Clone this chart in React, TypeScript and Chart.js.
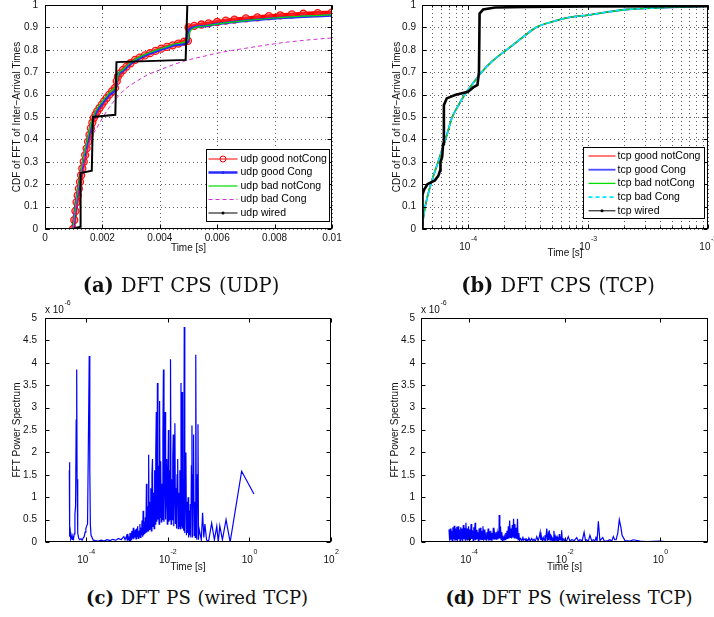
import React, { useEffect, useRef } from "react";
import { Chart, registerables } from "chart.js";

Chart.register(...registerables);

// ---------------- (a) UDP: CDF of FFT of inter-arrival times [time s, cdf] ----------------
const udpGoodNotCong: [number, number][] = [
  [0.00098, 0.0], [0.00102, 0.04], [0.00106, 0.08], [0.0011, 0.12], [0.00114, 0.15], [0.00118, 0.18],
  [0.00122, 0.21], [0.00126, 0.24], [0.0013, 0.27], [0.00135, 0.3], [0.0014, 0.33], [0.00145, 0.36],
  [0.0015, 0.39], [0.00155, 0.42], [0.0016, 0.45], [0.00165, 0.475], [0.0017, 0.495], [0.00176, 0.51],
  [0.00182, 0.525], [0.0019, 0.54], [0.00198, 0.555], [0.00206, 0.57], [0.00215, 0.585], [0.00224, 0.6],
  [0.00234, 0.615], [0.00244, 0.63], [0.0025, 0.66], [0.00254, 0.68], [0.00262, 0.695], [0.00272, 0.71],
  [0.00284, 0.725], [0.00298, 0.74], [0.00314, 0.755], [0.0033, 0.765], [0.00348, 0.775], [0.00366, 0.785],
  [0.00385, 0.795], [0.00405, 0.805], [0.00425, 0.813], [0.00445, 0.82], [0.00465, 0.828], [0.00485, 0.836],
  [0.00498, 0.84], [0.005, 0.9], [0.0052, 0.907], [0.00545, 0.913], [0.0057, 0.918], [0.006, 0.924],
  [0.0063, 0.93], [0.0066, 0.935], [0.007, 0.94], [0.0074, 0.945], [0.0078, 0.95], [0.0082, 0.954],
  [0.0086, 0.958], [0.009, 0.961], [0.0095, 0.964], [0.01, 0.967],
];
const udpGoodCong: [number, number][] = [
  [0.00098, 0.0], [0.0011, 0.13], [0.00122, 0.22], [0.00135, 0.31], [0.0015, 0.4], [0.00165, 0.48],
  [0.0018, 0.525], [0.002, 0.56], [0.00225, 0.6], [0.00248, 0.635], [0.00252, 0.68], [0.0027, 0.705],
  [0.003, 0.74], [0.0034, 0.77], [0.0038, 0.79], [0.0042, 0.808], [0.0046, 0.822], [0.00498, 0.835],
  [0.00502, 0.89], [0.0055, 0.905], [0.006, 0.915], [0.007, 0.93], [0.008, 0.94], [0.009, 0.947], [0.01, 0.953],
];
const udpBadNotCong: [number, number][] = [
  [0.00097, 0.0], [0.0011, 0.14], [0.00122, 0.235], [0.00135, 0.325], [0.0015, 0.415], [0.00165, 0.49],
  [0.0018, 0.535], [0.002, 0.57], [0.00225, 0.61], [0.00248, 0.645], [0.00255, 0.69], [0.0027, 0.71],
  [0.003, 0.745], [0.0034, 0.775], [0.0038, 0.795], [0.0042, 0.812], [0.0046, 0.828], [0.00498, 0.845],
  [0.00502, 0.87], [0.0051, 0.89], [0.0055, 0.905], [0.006, 0.915], [0.007, 0.93], [0.008, 0.942],
  [0.009, 0.95], [0.01, 0.956],
];
const udpBadCong: [number, number][] = [
  [0.00097, 0.0], [0.0011, 0.12], [0.00125, 0.24], [0.0014, 0.33], [0.0016, 0.405], [0.0018, 0.45],
  [0.002, 0.495], [0.00225, 0.545], [0.0025, 0.585], [0.0028, 0.625], [0.0032, 0.66], [0.0036, 0.69],
  [0.004, 0.71], [0.0045, 0.735], [0.005, 0.755], [0.0055, 0.77], [0.006, 0.785], [0.0065, 0.797],
  [0.007, 0.807], [0.008, 0.827], [0.009, 0.842], [0.01, 0.853],
];
const udpWired: [number, number][] = [
  [0.00099, 0.0], [0.00122, 0.01], [0.00124, 0.25], [0.00163, 0.26], [0.00167, 0.5], [0.00245, 0.51],
  [0.00249, 0.745], [0.0049, 0.755], [0.00496, 1.0], [0.01, 1.0],
];

// ---------------- (b) TCP: CDF [time s, cdf] ----------------
const tcpGoodNotCong: [number, number][] = [
  [4.14e-5, 0], [4.25e-5, 0.05], [4.4e-5, 0.1], [4.6e-5, 0.145], [4.9e-5, 0.2], [5.25e-5, 0.25],
  [5.65e-5, 0.3], [6.05e-5, 0.35], [6.5e-5, 0.4], [7.4e-5, 0.5], [8.3e-5, 0.55], [9.4e-5, 0.6],
  [1.1e-4, 0.65], [1.3e-4, 0.7], [1.6e-4, 0.75], [2.1e-4, 0.8], [2.55e-4, 0.835], [3.0e-4, 0.865],
  [3.7e-4, 0.9], [5e-4, 0.925], [7e-4, 0.945], [1e-3, 0.955], [1.5e-3, 0.97], [2.1e-3, 0.98],
  [3e-3, 0.985], [5e-3, 0.99], [1e-2, 0.995],
];
const tcpGoodCong: [number, number][] = [
  [4.14e-5, 0], [4.25e-5, 0.05], [4.4e-5, 0.1], [4.6e-5, 0.145], [4.9e-5, 0.2], [5.25e-5, 0.25],
  [5.65e-5, 0.3], [6.05e-5, 0.35], [6.5e-5, 0.4], [7.4e-5, 0.5], [8.3e-5, 0.55], [9.4e-5, 0.6],
  [1.1e-4, 0.65], [1.3e-4, 0.7], [1.6e-4, 0.75], [2.1e-4, 0.8], [2.55e-4, 0.835], [3.0e-4, 0.865],
  [3.7e-4, 0.9], [5e-4, 0.925], [7e-4, 0.945], [1e-3, 0.955], [1.5e-3, 0.97], [2.1e-3, 0.98],
  [3e-3, 0.985], [5e-3, 0.99], [1e-2, 0.995],
];
const tcpBadNotCong: [number, number][] = [
  [4.14e-5, 0], [4.25e-5, 0.05], [4.4e-5, 0.1], [4.6e-5, 0.145], [4.9e-5, 0.2], [5.25e-5, 0.25],
  [5.65e-5, 0.3], [6.05e-5, 0.35], [6.5e-5, 0.4], [7.4e-5, 0.5], [8.3e-5, 0.55], [9.4e-5, 0.6],
  [1.1e-4, 0.65], [1.3e-4, 0.7], [1.6e-4, 0.75], [2.1e-4, 0.8], [2.55e-4, 0.835], [3.0e-4, 0.865],
  [3.7e-4, 0.9], [5e-4, 0.925], [7e-4, 0.945], [1e-3, 0.955], [1.5e-3, 0.97], [2.1e-3, 0.98],
  [3e-3, 0.985], [5e-3, 0.99], [1e-2, 0.995],
];
const tcpBadCong: [number, number][] = [
  [4.14e-5, 0], [4.25e-5, 0.05], [4.4e-5, 0.1], [4.6e-5, 0.145], [4.9e-5, 0.2], [5.25e-5, 0.25],
  [5.65e-5, 0.3], [6.05e-5, 0.35], [6.5e-5, 0.4], [7.4e-5, 0.5], [8.3e-5, 0.55], [9.4e-5, 0.6],
  [1.1e-4, 0.65], [1.3e-4, 0.7], [1.6e-4, 0.75], [2.1e-4, 0.8], [2.55e-4, 0.835], [3.0e-4, 0.865],
  [3.7e-4, 0.9], [5e-4, 0.925], [7e-4, 0.945], [1e-3, 0.955], [1.5e-3, 0.97], [2.1e-3, 0.98],
  [3e-3, 0.985], [5e-3, 0.99], [1e-2, 0.995],
];
const tcpWired: [number, number][] = [
  [4.16e-5, 0], [4.18e-5, 0.152], [4.3e-5, 0.175], [4.6e-5, 0.2], [5.3e-5, 0.217], [5.66e-5, 0.237],
  [5.85e-5, 0.26], [5.9e-5, 0.298], [6.1e-5, 0.323], [6.2e-5, 0.38], [6.3e-5, 0.553], [6.65e-5, 0.583],
  [7.8e-5, 0.598], [1.0e-4, 0.613], [1.107e-4, 0.632], [1.2e-4, 0.643], [1.235e-4, 0.7], [1.25e-4, 0.962],
  [1.34e-4, 0.98], [1.68e-4, 0.989], [3e-4, 0.991], [1e-3, 0.993], [1e-2, 0.995],
];

// ---------------- (c) wired TCP power spectrum [time s, power x1e-6] ----------------
const wiredTcpSpectrum: [number, number][] = [
  [3.94e-5, 1.6], [3.96e-5, 1.78], [4.0e-5, 0.26], [4.08e-5, 0.12], [4.16e-5, 0.22], [4.25e-5, 0.08],
  [4.4e-5, 0.14], [4.6e-5, 0.06], [4.8e-5, 0.12], [5.0e-5, 0.07], [5.2e-5, 0.18], [5.4e-5, 0.62],
  [5.6e-5, 0.8], [5.8e-5, 2.72], [5.97e-5, 3.85], [6.1e-5, 1.4], [6.25e-5, 0.45], [6.4e-5, 0.2],
  [6.7e-5, 0.08], [7.1e-5, 0.05], [7.6e-5, 0.07], [8.1e-5, 0.04], [8.6e-5, 0.09], [9.1e-5, 0.12],
  [9.6e-5, 0.22], [1.0e-4, 0.3], [1.05e-4, 0.36], [1.1e-4, 0.4], [1.15e-4, 2.13], [1.21e-4, 4.15],
  [1.25e-4, 1.6], [1.29e-4, 0.38], [1.34e-4, 0.15], [1.42e-4, 0.1], [1.52e-4, 0.04], [1.7e-4, 0.03],
  [2.0e-4, 0.02], [2.4e-4, 0.04], [2.8e-4, 0.02], [3.3e-4, 0.05], [3.9e-4, 0.03], [4.6e-4, 0.06],
  [5.4e-4, 0.04], [6.3e-4, 0.08], [7.3e-4, 0.05], [8.5e-4, 0.12], [9.1e-4, 0.05],
  [1.0e-3, 0.14], [1.03e-3, 0.04], [1.06e-3, 0.18], [1.1e-3, 0.05], [1.13e-3, 0.12], [1.17e-3, 0.03],
  [1.2e-3, 0.2], [1.24e-3, 0.06], [1.28e-3, 0.15], [1.32e-3, 0.04], [1.36e-3, 0.25], [1.4e-3, 0.08],
  [1.45e-3, 0.32], [1.49e-3, 0.06], [1.54e-3, 0.2], [1.59e-3, 0.1], [1.64e-3, 0.28], [1.69e-3, 0.07],
  [1.74e-3, 0.3], [1.8e-3, 0.12], [1.85e-3, 0.35], [1.91e-3, 0.08], [1.97e-3, 0.25], [2.03e-3, 0.12],
  [2.1e-3, 0.4], [2.16e-3, 0.1], [2.23e-3, 0.32], [2.3e-3, 0.15], [2.37e-3, 0.48], [2.45e-3, 0.12],
  [2.52e-3, 0.7], [2.6e-3, 0.15], [2.68e-3, 0.45], [2.77e-3, 0.18], [2.85e-3, 0.55], [2.94e-3, 0.2],
  [3.04e-3, 1.3], [3.13e-3, 0.22], [3.23e-3, 0.8], [3.33e-3, 0.25], [3.44e-3, 1.95], [3.55e-3, 0.28],
  [3.66e-3, 0.9], [3.77e-3, 0.3], [3.89e-3, 1.2], [4.01e-3, 0.25], [4.14e-3, 1.5], [4.27e-3, 1.85],
  [4.4e-3, 0.35], [4.54e-3, 1.1], [4.68e-3, 0.3], [4.83e-3, 1.6], [4.98e-3, 0.4], [5.14e-3, 2.0],
  [5.3e-3, 2.9], [5.47e-3, 0.45], [5.64e-3, 3.55], [5.82e-3, 0.5], [6.0e-3, 1.7], [6.19e-3, 0.4],
  [6.38e-3, 3.15], [6.58e-3, 0.55], [6.79e-3, 1.8], [7.0e-3, 0.45], [7.22e-3, 1.3], [7.45e-3, 0.5],
  [7.68e-3, 2.4], [7.92e-3, 3.85], [8.17e-3, 0.45], [8.43e-3, 1.5], [8.69e-3, 2.9], [8.97e-3, 0.5],
  [9.25e-3, 1.2], [9.54e-3, 1.85], [9.84e-3, 0.4], [1.015e-2, 1.3], [1.05e-2, 2.5], [1.08e-2, 0.45],
  [1.11e-2, 1.6], [1.15e-2, 0.5], [1.18e-2, 4.08], [1.22e-2, 0.4], [1.26e-2, 1.4], [1.3e-2, 0.5],
  [1.34e-2, 1.9], [1.38e-2, 2.4], [1.42e-2, 0.35], [1.47e-2, 1.3], [1.51e-2, 2.65], [1.56e-2, 0.4],
  [1.61e-2, 1.2], [1.66e-2, 0.3], [1.71e-2, 1.5], [1.77e-2, 1.85], [1.82e-2, 0.3], [1.88e-2, 1.1],
  [1.94e-2, 0.35], [2.0e-2, 1.6], [2.06e-2, 0.3], [2.13e-2, 3.55], [2.19e-2, 0.35], [2.26e-2, 3.35],
  [2.33e-2, 0.3], [2.41e-2, 1.4], [2.48e-2, 0.25], [2.56e-2, 4.8], [2.64e-2, 0.2], [2.72e-2, 1.2],
  [2.81e-2, 2.0], [2.9e-2, 0.15], [2.99e-2, 0.9], [3.08e-2, 0.2], [3.18e-2, 1.0], [3.28e-2, 0.1],
  [3.38e-2, 0.7], [3.49e-2, 0.15], [3.6e-2, 0.85], [3.71e-2, 0.1], [3.83e-2, 1.7], [3.95e-2, 2.6],
  [4.07e-2, 0.1], [4.2e-2, 1.5], [4.33e-2, 2.4], [4.47e-2, 0.15], [4.61e-2, 0.9], [4.75e-2, 0.1],
  [4.9e-2, 4.18], [5.06e-2, 0.3], [5.22e-2, 0.05], [5.38e-2, 1.5], [5.55e-2, 2.63], [5.72e-2, 0.05],
  [5.9e-2, 0.3], [6.2e-2, 0.3], [6.7e-2, 0.05], [7.2e-2, 0.65], [7.7e-2, 0.1], [8.2e-2, 0.4], [9.0e-2, 0.05],
  [0.1, 0.0], [0.12, 0.42], [0.14, 0.05], [0.16, 0.35], [0.174, 0.0], [0.19, 0.36], [0.22, 0.05],
  [0.27, 0.5], [0.34, 0.0], [0.65, 1.58], [1.3, 1.07],
];

// ---------------- (d) wireless TCP power spectrum [time s, power x1e-6] ----------------
const wirelessTcpSpectrum: [number, number][] = [
  [3.85e-5, 0.28], [3.97e-5, 0.03], [4.1e-5, 0.3], [4.23e-5, 0.05], [4.36e-5, 0.25], [4.5e-5, 0.02],
  [4.64e-5, 0.33], [4.79e-5, 0.06], [4.94e-5, 0.36], [5.1e-5, 0.03], [5.26e-5, 0.3], [5.43e-5, 0.05],
  [5.6e-5, 0.34], [5.78e-5, 0.02], [5.96e-5, 0.35], [6.15e-5, 0.06], [6.35e-5, 0.28], [6.55e-5, 0.03],
  [6.76e-5, 0.33], [6.97e-5, 0.05], [7.2e-5, 0.3], [7.43e-5, 0.02], [7.66e-5, 0.38], [7.9e-5, 0.06],
  [8.15e-5, 0.32], [8.41e-5, 0.04], [8.68e-5, 0.43], [8.96e-5, 0.05], [9.25e-5, 0.3], [9.54e-5, 0.03],
  [9.85e-5, 0.35], [1.016e-4, 0.06], [1.05e-4, 0.28], [1.08e-4, 0.04], [1.115e-4, 0.4], [1.15e-4, 0.07],
  [1.19e-4, 0.26], [1.23e-4, 0.03], [1.27e-4, 0.33], [1.31e-4, 0.05], [1.35e-4, 0.43], [1.39e-4, 0.04],
  [1.44e-4, 0.27], [1.48e-4, 0.06], [1.53e-4, 0.22], [1.58e-4, 0.03], [1.63e-4, 0.3], [1.68e-4, 0.05],
  [1.73e-4, 0.32], [1.79e-4, 0.04], [1.85e-4, 0.25], [1.91e-4, 0.06], [1.97e-4, 0.35], [2.03e-4, 0.03],
  [2.09e-4, 0.28], [2.16e-4, 0.05], [2.23e-4, 0.15], [2.3e-4, 0.04], [2.37e-4, 0.22], [2.45e-4, 0.06],
  [2.53e-4, 0.3], [2.61e-4, 0.03], [2.69e-4, 0.24], [2.78e-4, 0.05], [2.87e-4, 0.25], [2.96e-4, 0.04],
  [3.05e-4, 0.2], [3.15e-4, 0.06], [3.25e-4, 0.32], [3.35e-4, 0.05], [3.46e-4, 0.18], [3.57e-4, 0.07],
  [3.68e-4, 0.22], [3.8e-4, 0.05], [3.92e-4, 0.2], [4.05e-4, 0.06], [4.18e-4, 0.25], [4.27e-4, 0.08],
  [4.31e-4, 0.6], [4.45e-4, 0.08], [4.59e-4, 0.35], [4.74e-4, 0.05], [4.89e-4, 0.22], [5.05e-4, 0.04],
  [5.21e-4, 0.1], [5.37e-4, 0.03], [5.54e-4, 0.12], [5.72e-4, 0.05], [5.9e-4, 0.2], [6.09e-4, 0.06],
  [6.29e-4, 0.25], [6.49e-4, 0.07], [6.7e-4, 0.35], [6.91e-4, 0.08], [7.13e-4, 0.48], [7.36e-4, 0.1],
  [7.6e-4, 0.3], [7.84e-4, 0.08], [8.09e-4, 0.38], [8.35e-4, 0.1], [8.62e-4, 0.52], [8.89e-4, 0.09],
  [9.18e-4, 0.4], [9.47e-4, 0.08], [9.77e-4, 0.32], [1.01e-3, 0.07], [1.04e-3, 0.52], [1.07e-3, 0.05],
  [1.11e-3, 0.2], [1.15e-3, 0.04], [1.2e-3, 0.08], [1.28e-3, 0.03], [1.35e-3, 0.1], [1.4e-3, 0.04],
  [1.5e-3, 0.07], [1.57e-3, 0.02], [1.63e-3, 0.06], [1.72e-3, 0.03], [1.8e-3, 0.09], [1.92e-3, 0.02],
  [2.06e-3, 0.08], [2.18e-3, 0.03], [2.3e-3, 0.06], [2.45e-3, 0.02], [2.63e-3, 0.12], [2.8e-3, 0.03],
  [2.95e-3, 0.1], [3.1e-3, 0.22], [3.2e-3, 0.04], [3.3e-3, 0.12], [3.45e-3, 0.03], [3.6e-3, 0.1],
  [3.75e-3, 0.04], [3.9e-3, 0.15], [4.05e-3, 0.05], [4.26e-3, 0.3], [4.4e-3, 0.06], [4.55e-3, 0.15],
  [4.65e-3, 0.04], [4.8e-3, 0.26], [5.0e-3, 0.04], [5.2e-3, 0.15], [5.4e-3, 0.12], [5.55e-3, 0.03],
  [5.7e-3, 0.1], [5.85e-3, 0.03], [6.0e-3, 0.25], [6.2e-3, 0.05], [6.4e-3, 0.12], [6.6e-3, 0.03],
  [6.9e-3, 0.1], [7.1e-3, 0.03], [7.3e-3, 0.08], [7.55e-3, 0.03], [7.8e-3, 0.18], [8.0e-3, 0.04],
  [8.2e-3, 0.1], [8.45e-3, 0.04], [8.7e-3, 0.26], [9.0e-3, 0.03], [9.4e-3, 0.07], [9.8e-3, 0.02],
  [1.02e-2, 0.06], [1.1e-2, 0.02], [1.2e-2, 0.12], [1.3e-2, 0.02], [1.41e-2, 0.05], [1.6e-2, 0.03],
  [1.8e-2, 0.1], [1.95e-2, 0.02], [2.1e-2, 0.05], [2.35e-2, 0.03], [2.57e-2, 0.22], [2.75e-2, 0.03],
  [2.9e-2, 0.05], [3.15e-2, 0.02], [3.4e-2, 0.15], [3.7e-2, 0.03], [4.0e-2, 0.05], [4.3e-2, 0.02],
  [4.55e-2, 0.1], [4.8e-2, 0.02], [5.1e-2, 0.46], [5.5e-2, 0.03], [6.3e-2, 0.1], [6.8e-2, 0.02],
  [7.4e-2, 0.02], [8.1e-2, 0.03], [8.9e-2, 0.05], [9.7e-2, 0.02], [0.105, 0.12], [0.112, 0.05],
  [0.12, 0.05], [0.13, 0.2], [0.14, 0.5], [0.15, 0.35], [0.16, 0.15], [0.184, 0.03], [0.234, 0.02],
  [0.275, 0.05], [0.38, 0.02], [0.525, 0.01], [1.0, 0.02], [1.6, 0.0],
];

// ---------------- ticks ----------------
const udpTimeTicks = [0, 0.002, 0.004, 0.006, 0.008, 0.01];
const udpTimeTickLabels = ["0", "0.002", "0.004", "0.006", "0.008", "0.01"];
const cdfTicks = [0, 0.1, 0.2, 0.3, 0.4, 0.5, 0.6, 0.7, 0.8, 0.9, 1];
const cdfTickLabels = ["0", "0.1", "0.2", "0.3", "0.4", "0.5", "0.6", "0.7", "0.8", "0.9", "1"];
const tcpTimeTicks = [1e-4, 1e-3, 1e-2];
const tcpTimeTickExps = ["-4", "-3", "-2"];
const powerTicks = [0, 0.5, 1, 1.5, 2, 2.5, 3, 3.5, 4, 4.5, 5];
const powerTickLabels = ["0", "0.5", "1", "1.5", "2", "2.5", "3", "3.5", "4", "4.5", "5"];
const wiredPsTimeTicks = [1e-4, 1e-2, 1, 100];
const wiredPsTimeTickExps = ["-4", "-2", "0", "2"];
const wirelessPsTimeTicks = [1e-4, 1e-2, 1];
const wirelessPsTimeTickExps = ["-4", "-2", "0"];
const powerExponent = "-6";

function logMinorTicks(minExp: number, maxExp: number, lo: number, hi: number): number[] {
  const out: number[] = [];
  for (let e = minExp; e <= maxExp; e++) {
    for (let m = 1; m <= 9; m++) {
      const v = m * Math.pow(10, e);
      if (v >= lo && v <= hi) out.push(v);
    }
  }
  return out;
}

const FONT = '"Liberation Sans", Arial, Helvetica, sans-serif';

type LogLabel = { base: string; sup: string };
type Spec = {
  key: string;
  left: number; top: number; w: number; h: number;
  pad: { left: number; top: number; right: number; bottom: number };
  xType: "linear" | "logarithmic";
  xMin: number; xMax: number; yMin: number; yMax: number;
  xTicks: number[]; xLabels: (string | LogLabel)[];
  xMinor?: number[];
  yTicks: number[]; yLabels: string[];
  gridX?: number[]; gridY?: number[];
  xTitle: string; yTitle: string;
  xLabelDy: number; xSupDy: number; xTitleDy: number; yLabelDx: number; yTitleDx: number;
  multiplier?: string;
  legend?: { right: number; bottom: number; w: number; h: number; firstRow: number; rowStep: number; lineX0: number; lineX1: number; textX: number };
  datasets: any[];
};

function makePlugin(spec: Spec) {
  return {
    id: "matlabAxes",
    beforeDatasetsDraw(chart: any) {
      const { ctx, chartArea: a } = chart;
      const xs = chart.scales.x, ys = chart.scales.y;
      ctx.save();
      ctx.strokeStyle = "#606060";
      ctx.lineWidth = 1;
      ctx.setLineDash([1, 3]);
      for (const v of spec.gridX || []) {
        const p = Math.round(xs.getPixelForValue(v)) + 0.5;
        ctx.beginPath();
        ctx.moveTo(p, a.top); ctx.lineTo(p, a.bottom);
        ctx.stroke();
      }
      for (const v of spec.gridY || []) {
        const p = Math.round(ys.getPixelForValue(v)) + 0.5;
        ctx.beginPath();
        ctx.moveTo(a.left, p); ctx.lineTo(a.right, p);
        ctx.stroke();
      }
      ctx.restore();
    },
    afterDatasetsDraw(chart: any) {
      const { ctx, chartArea: a } = chart;
      const xs = chart.scales.x, ys = chart.scales.y;
      ctx.save();
      ctx.setLineDash([]);
      ctx.strokeStyle = "#000";
      ctx.lineWidth = 1;
      const L = Math.round(a.left) + 0.5, T = Math.round(a.top) + 0.5;
      const R = Math.round(a.right) - 0.5, B = Math.round(a.bottom) - 0.5;
      ctx.strokeRect(L, T, R - L, B - T);
      ctx.beginPath();
      for (const v of spec.xTicks) {
        const p = Math.round(xs.getPixelForValue(v)) + 0.5;
        ctx.moveTo(p, B); ctx.lineTo(p, B - 4);
        ctx.moveTo(p, T); ctx.lineTo(p, T + 4);
      }
      for (const v of spec.xMinor || []) {
        const p = Math.round(xs.getPixelForValue(v)) + 0.5;
        ctx.moveTo(p, B); ctx.lineTo(p, B - 2);
        ctx.moveTo(p, T); ctx.lineTo(p, T + 2);
      }
      for (const v of spec.yTicks) {
        const p = Math.round(ys.getPixelForValue(v)) + 0.5;
        ctx.moveTo(L, p); ctx.lineTo(L + 4, p);
        ctx.moveTo(R, p); ctx.lineTo(R - 4, p);
      }
      ctx.stroke();
      ctx.fillStyle = "#111";
      ctx.textBaseline = "middle";
      spec.xTicks.forEach((v, i) => {
        const lab = spec.xLabels[i];
        const p = xs.getPixelForValue(v);
        if (typeof lab === "string") {
          ctx.font = `10px ${FONT}`;
          ctx.textAlign = "center";
          ctx.fillText(lab, p, a.bottom + spec.xLabelDy);
        } else {
          ctx.font = `10px ${FONT}`;
          const w1 = ctx.measureText(lab.base).width;
          ctx.font = `7px ${FONT}`;
          const w2 = ctx.measureText(lab.sup).width;
          const x0 = p - (w1 + w2) / 2;
          ctx.textAlign = "left";
          ctx.font = `10px ${FONT}`;
          ctx.fillText(lab.base, x0, a.bottom + spec.xLabelDy);
          ctx.font = `7px ${FONT}`;
          ctx.fillText(lab.sup, x0 + w1 + 0.5, a.bottom + spec.xSupDy);
        }
      });
      ctx.font = `10px ${FONT}`;
      ctx.textAlign = "right";
      spec.yTicks.forEach((v, i) => {
        ctx.fillText(spec.yLabels[i], a.left - spec.yLabelDx, ys.getPixelForValue(v));
      });
      ctx.textAlign = "center";
      ctx.fillText(spec.xTitle, (a.left + a.right) / 2, a.bottom + spec.xTitleDy);
      ctx.save();
      ctx.translate(a.left - spec.yTitleDx, (a.top + a.bottom) / 2);
      ctx.rotate(-Math.PI / 2);
      ctx.fillText(spec.yTitle, 0, 0);
      ctx.restore();
      if (spec.multiplier) {
        ctx.textAlign = "left";
        ctx.font = `10px ${FONT}`;
        const w1 = ctx.measureText("x 10").width;
        ctx.fillText("x 10", a.left, a.top - 8);
        ctx.font = `7px ${FONT}`;
        ctx.fillText(spec.multiplier, a.left + w1 + 0.5, a.top - 15);
      }
      if (spec.legend) {
        const G = spec.legend;
        const bx = Math.round(a.right - G.right - G.w) + 0.5;
        const by = Math.round(a.bottom - G.bottom - G.h) + 0.5;
        ctx.fillStyle = "#fff";
        ctx.fillRect(bx, by, G.w, G.h);
        ctx.strokeStyle = "#000";
        ctx.lineWidth = 1;
        ctx.strokeRect(bx, by, G.w, G.h);
        chart.data.datasets.forEach((ds: any, i: number) => {
          const cy = by + G.firstRow + i * G.rowStep;
          ctx.strokeStyle = ds.borderColor;
          ctx.lineWidth = ds.legendWidth || ds.borderWidth;
          ctx.setLineDash(ds.borderDash || []);
          ctx.beginPath();
          ctx.moveTo(bx + G.lineX0, cy);
          ctx.lineTo(bx + G.lineX1, cy);
          ctx.stroke();
          ctx.setLineDash([]);
          const mx = bx + (G.lineX0 + G.lineX1) / 2;
          if (ds.legendMarker === "circle") {
            ctx.lineWidth = 1;
            ctx.beginPath();
            ctx.arc(mx, cy, 3, 0, Math.PI * 2);
            ctx.stroke();
          } else if (ds.legendMarker === "dot") {
            ctx.fillStyle = ds.borderColor;
            ctx.beginPath();
            ctx.arc(mx, cy, 1.5, 0, Math.PI * 2);
            ctx.fill();
          }
          ctx.fillStyle = "#000";
          ctx.font = `10.5px ${FONT}`;
          ctx.textAlign = "left";
          ctx.textBaseline = "middle";
          ctx.fillText(ds.label, bx + G.textX, cy);
        });
      }
      ctx.restore();
    },
  };
}

const toXY = (pts: [number, number][]) => pts.map(([x, y]) => ({ x, y }));

function line(label: string, pts: [number, number][], color: string, width: number, order: number, extra: any = {}) {
  return {
    label,
    data: toXY(pts),
    borderColor: color,
    backgroundColor: color,
    borderWidth: width,
    pointRadius: 0,
    fill: false,
    tension: 0,
    order,
    ...extra,
  };
}

const smooth = { cubicInterpolationMode: "monotone" };
const logLabels = (exps: string[]): LogLabel[] => exps.map((e) => ({ base: "10", sup: e }));

const specs: Spec[] = [
  {
    key: "a", left: 0, top: 0, w: 357, h: 262,
    pad: { left: 45, top: 5, right: 25, bottom: 33 },
    xType: "linear", xMin: 0, xMax: 0.01, yMin: 0, yMax: 1,
    xTicks: udpTimeTicks, xLabels: udpTimeTickLabels,
    yTicks: cdfTicks, yLabels: cdfTickLabels,
    gridX: udpTimeTicks, gridY: cdfTicks,
    xTitle: "Time [s]", yTitle: "CDF of FFT of Inter\u2212Arrival Times",
    xLabelDy: 9, xSupDy: 0, xTitleDy: 19, yLabelDx: 7, yTitleDx: 28,
    legend: { right: 3, bottom: 8, w: 123, h: 72, firstRow: 9.5, rowStep: 13.5, lineX0: 2, lineX1: 31, textX: 34 },
    datasets: [
      line("udp good notCong", udpGoodNotCong, "#ff0000", 4, 5, {
        pointRadius: 3.5, pointBorderWidth: 1.3, pointBorderColor: "#ff1010",
        pointBackgroundColor: "rgba(255,80,80,0.35)", legendMarker: "circle", legendWidth: 1,
      }),
      line("udp good Cong", udpGoodCong, "#2a2aff", 2.5, 4, { legendMarker: "dot", ...smooth }),
      line("udp bad notCong", udpBadNotCong, "#00dd00", 1.2, 3, smooth),
      line("udp bad Cong", udpBadCong, "#d030d0", 1, 2, { borderDash: [4, 3], ...smooth }),
      line("udp wired", udpWired, "#000000", 2, 1, { legendMarker: "dot", legendWidth: 1 }),
    ],
  },
  {
    key: "b", left: 357, top: 0, w: 357, h: 262,
    pad: { left: 65, top: 5, right: 6, bottom: 33 },
    xType: "logarithmic", xMin: 4.14e-5, xMax: 1e-2, yMin: 0, yMax: 1,
    xTicks: tcpTimeTicks, xLabels: logLabels(tcpTimeTickExps),
    xMinor: logMinorTicks(-5, -3, 4.14e-5, 1e-2),
    yTicks: cdfTicks, yLabels: cdfTickLabels,
    gridX: logMinorTicks(-5, -2, 4.14e-5, 1e-2), gridY: cdfTicks,
    xTitle: "Time [s]", yTitle: "CDF of FFT of Inter\u2212Arrival Times",
    xLabelDy: 18, xSupDy: 10, xTitleDy: 24, yLabelDx: 6, yTitleDx: 25,
    legend: { right: 4, bottom: 11, w: 121, h: 71, firstRow: 8.5, rowStep: 13.7, lineX0: 5, lineX1: 32, textX: 34 },
    datasets: [
      line("tcp good notCong", tcpGoodNotCong, "#ff2020", 1.2, 5, smooth),
      line("tcp good Cong", tcpGoodCong, "#4a4aff", 1.8, 4, smooth),
      line("tcp bad notCong", tcpBadNotCong, "#00dd00", 1.3, 3, smooth),
      line("tcp bad Cong", tcpBadCong, "#00e8ff", 1.6, 2, { borderDash: [4, 3], ...smooth }),
      line("tcp wired", tcpWired, "#000000", 2.6, 1, { legendMarker: "dot", legendWidth: 1 }),
    ],
  },
  {
    key: "c", left: 0, top: 290, w: 357, h: 290,
    pad: { left: 45, top: 28, right: 26, bottom: 38 },
    xType: "logarithmic", xMin: 1e-5, xMax: 100, yMin: 0, yMax: 5,
    xTicks: wiredPsTimeTicks, xLabels: logLabels(wiredPsTimeTickExps),
    yTicks: powerTicks, yLabels: powerTickLabels,
    xTitle: "Time [s]", yTitle: "FFT Power Spectrum",
    xLabelDy: 18, xSupDy: 10, xTitleDy: 25, yLabelDx: 8, yTitleDx: 28,
    multiplier: powerExponent,
    datasets: [line("wired TCP", wiredTcpSpectrum, "#0000ff", 1.2, 1)],
  },
  {
    key: "d", left: 357, top: 290, w: 357, h: 290,
    pad: { left: 64, top: 28, right: 6, bottom: 38 },
    xType: "logarithmic", xMin: 1e-5, xMax: 10, yMin: 0, yMax: 5,
    xTicks: wirelessPsTimeTicks, xLabels: logLabels(wirelessPsTimeTickExps),
    yTicks: powerTicks, yLabels: powerTickLabels,
    xTitle: "Time [s]", yTitle: "FFT Power Spectrum",
    xLabelDy: 18, xSupDy: 10, xTitleDy: 25, yLabelDx: 6, yTitleDx: 26,
    multiplier: powerExponent,
    datasets: [line("wireless TCP", wirelessTcpSpectrum, "#0000ff", 1.2, 1)],
  },
];

function Panel({ spec }: { spec: Spec }) {
  const ref = useRef<HTMLCanvasElement>(null);
  useEffect(() => {
    const chart = new Chart(ref.current as HTMLCanvasElement, {
      type: "line",
      data: { datasets: spec.datasets },
      options: {
        animation: false,
        responsive: false,
        devicePixelRatio: 1,
        events: [],
        layout: { padding: spec.pad, autoPadding: false } as any,
        scales: {
          x: { type: spec.xType, min: spec.xMin, max: spec.xMax, display: false, offset: false } as any,
          y: { type: "linear", min: spec.yMin, max: spec.yMax, display: false } as any,
        },
        plugins: { legend: { display: false }, tooltip: { enabled: false }, title: { display: false } },
      },
      plugins: [makePlugin(spec) as any],
    });
    return () => chart.destroy();
  }, []);
  return (
    <canvas
      ref={ref}
      width={spec.w}
      height={spec.h}
      style={{ position: "absolute", left: spec.left, top: spec.top, width: spec.w, height: spec.h }}
    />
  );
}

const captions = [
  { tag: "(a)", text: "DFT CPS (UDP)", cx: 181, cy: 286, size: 19.5 },
  { tag: "(b)", text: "DFT CPS (TCP)", cx: 558, cy: 286, size: 19.5 },
  { tag: "(c)", text: "DFT PS (wired TCP)", cx: 197, cy: 598, size: 18 },
  { tag: "(d)", text: "DFT PS (wireless TCP)", cx: 569, cy: 598, size: 18 },
];

export default function App() {
  return (
    <div style={{ position: "absolute", left: 0, top: 0, width: 714, height: 617, overflow: "hidden", background: "#fff" }}>
      {specs.map((s) => (
        <Panel key={s.key} spec={s} />
      ))}
      {captions.map((c) => (
        <div
          key={c.tag}
          style={{
            position: "absolute", left: c.cx, top: c.cy - 11, transform: "translateX(-50%)",
            whiteSpace: "nowrap", font: `${c.size}px "DejaVu Serif", "Liberation Serif", serif`, lineHeight: "22px",
            color: "#111", wordSpacing: "1px",
          }}
        >
          <b>{c.tag}</b> {c.text}
        </div>
      ))}
    </div>
  );
}
